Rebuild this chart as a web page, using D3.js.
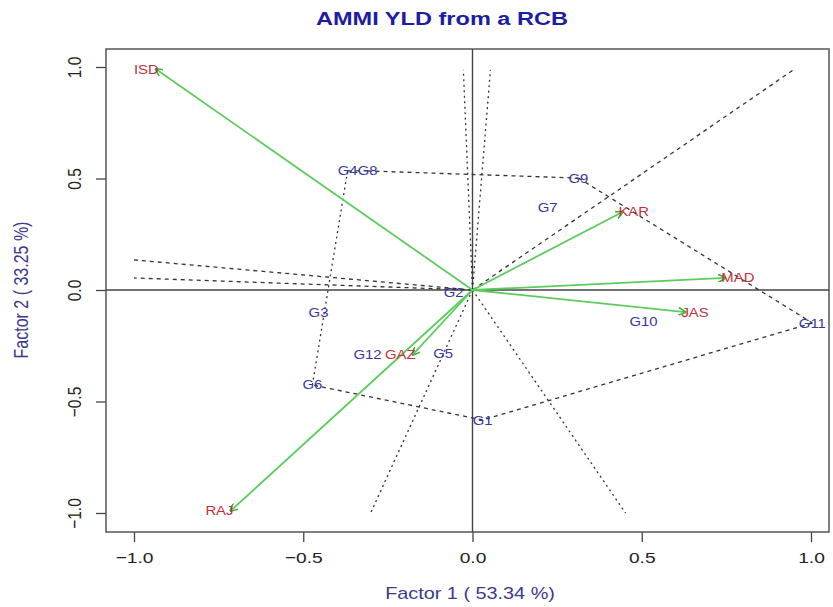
<!DOCTYPE html>
<html>
<head>
<meta charset="utf-8">
<script src="https://cdnjs.cloudflare.com/ajax/libs/d3/7.8.5/d3.min.js"></script>
<style>
  html, body { margin: 0; padding: 0; background: #fff; }
  svg { display: block; font-family: "Liberation Sans", Arial, sans-serif; }
</style>
</head>
<body>
<div id="chart"></div>
<script>
// AMMI biplot

const genotypes = ['G1', 'G2', 'G3', 'G4', 'G5', 'G6', 'G7', 'G8', 'G9', 'G10', 'G11', 'G12'];
const genoF1    = [0.030, -0.056, -0.455, -0.369, -0.087, -0.473, 0.222, -0.310, 0.313, 0.505, 1.004, -0.310];
const genoF2    = [-0.583, -0.013, -0.099, 0.534, -0.283, -0.426, 0.372, 0.534, 0.502, -0.143, -0.148, -0.287];

const environments = ['ISD', 'KAR', 'MAD', 'JAS', 'GAZ', 'RAJ'];
const envF1        = [-0.936, 0.443, 0.747, 0.629, -0.177, -0.715];
const envF2        = [0.991, 0.350, 0.054, -0.099, -0.291, -0.991];

// polygone (which-won-where)
const hullOrder = ['G4', 'G8', 'G9', 'G11', 'G1', 'G6'];

// rayons depuis l'origine
const rayF1 = [-0.027, 0.053, 0.948, -1.0, -1.0, -0.301, 0.452];
const rayF2 = [0.987, 0.987, 0.987, 0.135, 0.054, -1.0, -1.0];

const xTicks = [-1.0, -0.5, 0.0, 0.5, 1.0];
const yTicks = [-1.0, -0.5, 0.0, 0.5, 1.0];

const W = 833, H = 607;
const box = { left: 106, right: 829, top: 49, bottom: 532 };
const SX = 1.24; // l'image d'origine est étirée horizontalement

const x = d3.scaleLinear().domain([-1, 1]).range([134, 811]);
const y = d3.scaleLinear().domain([-1, 1]).range([513, 67]);
const fmt = d => d3.format('.1f')(d).replace('-', '\u2212');

const svg = d3.select('#chart').append('svg')
  .attr('width', W).attr('height', H);

svg.append('rect').attr('width', W).attr('height', H).attr('fill', '#fff');

// texte étiré
function label(parent, px, py, str, rot) {
  return parent.append('text')
    .attr('transform', `translate(${px},${py}) scale(${SX},1)` + (rot ? ` rotate(${rot})` : ''))
    .text(str);
}

// titre
label(svg, 442, 25, 'AMMI YLD from a RCB')
  .attr('text-anchor', 'middle')
  .attr('font-size', 19).attr('font-weight', 'bold')
  .attr('fill', '#1c1ca4');

// axes (style R)
const xAxis = d3.axisBottom(x).tickValues(xTicks).tickFormat(fmt)
  .tickSizeInner(10).tickSizeOuter(0).tickPadding(10);
const gx = svg.append('g').attr('transform', `translate(0,${box.bottom})`).call(xAxis);
gx.select('.domain').remove();
gx.selectAll('line').attr('stroke', '#444').attr('stroke-width', 1.3);
gx.selectAll('text').attr('font-size', 15.5).attr('fill', '#222')
  .attr('font-family', '"Liberation Sans", Arial, sans-serif')
  .attr('transform', `scale(${SX},1)`);

const yAxis = d3.axisLeft(y).tickValues(yTicks).tickFormat(fmt)
  .tickSizeInner(10).tickSizeOuter(0);
const gy = svg.append('g').attr('transform', `translate(${box.left},0)`).call(yAxis);
gy.select('.domain').remove();
gy.selectAll('line').attr('stroke', '#444').attr('stroke-width', 1.3);
gy.selectAll('text')
  .attr('font-size', 15.5).attr('fill', '#222')
  .attr('font-family', '"Liberation Sans", Arial, sans-serif')
  .attr('text-anchor', 'middle')
  .attr('dy', 0)
  .attr('x', 0)
  .attr('transform', `translate(-25,0) scale(${SX},1) rotate(-90)`);

// titres d'axes
label(svg, 470, 599, 'Factor 1 ( 53.34 %)')
  .attr('text-anchor', 'middle')
  .attr('font-size', 16).attr('fill', '#3a3a8e');

label(svg, 28, y(0), 'Factor 2 ( 33.25 %)', -90)
  .attr('text-anchor', 'middle')
  .attr('font-size', 16).attr('fill', '#3a3a8e');

// cadre
svg.append('rect')
  .attr('x', box.left).attr('y', box.top)
  .attr('width', box.right - box.left).attr('height', box.bottom - box.top)
  .attr('fill', 'none').attr('stroke', '#555').attr('stroke-width', 1.5);

// lignes à zéro
svg.append('line')
  .attr('x1', box.left).attr('x2', box.right)
  .attr('y1', y(0)).attr('y2', y(0))
  .attr('stroke', '#444').attr('stroke-width', 1.4);
svg.append('line')
  .attr('x1', x(0)).attr('x2', x(0))
  .attr('y1', box.top).attr('y2', box.bottom)
  .attr('stroke', '#444').attr('stroke-width', 1.4);

// style pointillé selon la pente (les traits raides apparaissent en points)
function dashFor(x1, y1, x2, y2) {
  return Math.abs(y2 - y1) > Math.abs(x2 - x1) ? '2,3.5' : '4,4';
}

// rayons
const rays = rayF1.map((f1, i) => ({ f1, f2: rayF2[i] }));
svg.append('g').selectAll('line')
  .data(rays)
  .enter().append('line')
  .attr('x1', x(0)).attr('y1', y(0))
  .attr('x2', d => x(d.f1)).attr('y2', d => y(d.f2))
  .attr('stroke', '#333').attr('stroke-width', 1.3)
  .attr('stroke-dasharray', d => dashFor(x(0), y(0), x(d.f1), y(d.f2)));

// polygone
const gIdx = name => genotypes.indexOf(name);
const hullPts = hullOrder.map(n => [x(genoF1[gIdx(n)]), y(genoF2[gIdx(n)])]);
const hullSegs = hullPts.map((p, i) => [p, hullPts[(i + 1) % hullPts.length]]);
svg.append('g').selectAll('line')
  .data(hullSegs)
  .enter().append('line')
  .attr('x1', d => d[0][0]).attr('y1', d => d[0][1])
  .attr('x2', d => d[1][0]).attr('y2', d => d[1][1])
  .attr('stroke', '#333').attr('stroke-width', 1.3)
  .attr('stroke-dasharray', d => dashFor(d[0][0], d[0][1], d[1][0], d[1][1]));

// flèches environnements
svg.append('defs').append('marker')
  .attr('id', 'head')
  .attr('viewBox', '0 0 10 10')
  .attr('refX', 9).attr('refY', 5)
  .attr('markerWidth', 4.5).attr('markerHeight', 4.5)
  .attr('orient', 'auto')
  .append('path')
  .attr('d', 'M0,0 L10,5 L0,10')
  .attr('fill', 'none').attr('stroke', '#3fae3f').attr('stroke-width', 2);

const envData = environments.map((name, i) => ({ name, f1: envF1[i], f2: envF2[i] }));
svg.append('g').selectAll('line')
  .data(envData)
  .enter().append('line')
  .attr('x1', x(0)).attr('y1', y(0))
  .attr('x2', d => x(d.f1)).attr('y2', d => y(d.f2))
  .attr('stroke', '#5ccc5c').attr('stroke-width', 1.8)
  .attr('marker-end', 'url(#head)');

const gEnv = svg.append('g');
envData.forEach(d => {
  label(gEnv, x(d.f1) + (d.f1 > 0 ? -4 : 3), y(d.f2) + 4.5, d.name)
    .attr('text-anchor', d.f1 > 0 ? 'start' : 'end')
    .attr('font-size', 12)
    .attr('fill', '#c0303c');
});

// génotypes
const gGen = svg.append('g');
genotypes.forEach((g, i) => {
  label(gGen, x(genoF1[i]), y(genoF2[i]) + 4.5, g)
    .attr('text-anchor', 'middle')
    .attr('font-size', 12)
    .attr('fill', '#3636a0');
});
</script>
</body>
</html>
